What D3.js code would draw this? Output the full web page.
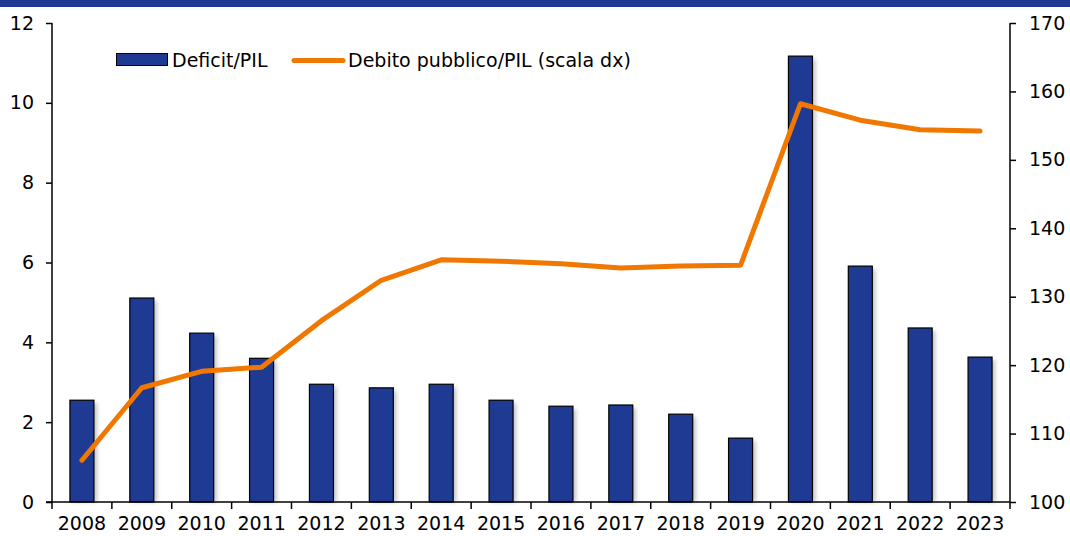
<!DOCTYPE html>
<html><head><meta charset="utf-8">
<script src="https://cdn.jsdelivr.net/npm/d3@7"></script>
<style>
body{margin:0;background:#fff;}
text{font-family:"DejaVu Sans",sans-serif;fill:#000;}
</style></head>
<body><svg id="c" width="1070" height="536"></svg>
<script>
const years = ["2008","2009","2010","2011","2012","2013","2014","2015","2016","2017","2018","2019","2020","2021","2022","2023"];
const deficit = [2.55,5.11,4.23,3.6,2.95,2.86,2.95,2.55,2.4,2.43,2.2,1.6,11.17,5.91,4.36,3.63];
const debt = [106.1,116.7,119.1,119.7,126.5,132.4,135.4,135.2,134.8,134.2,134.5,134.6,158.2,155.8,154.4,154.2];
const leftTicks = [0,2,4,6,8,10,12];
const rightTicks = [100,110,120,130,140,150,160,170];
const seriesNames = ["Deficit/PIL","Debito pubblico/PIL (scala dx)"];

const svg = d3.select("#c");
const L=52, R=1010, T=23, B=502;
const blue="#1f3a93", orange="#f07800";
const FF="DejaVu Sans, sans-serif";

svg.append("rect").attr("x",0).attr("y",0).attr("width",1070).attr("height",7).attr("fill",blue);

const x = d3.scaleBand().domain(years).range([L,R]).paddingInner(0).paddingOuter(0);
const yL = d3.scaleLinear().domain([0,12]).range([B,T]);
const yR = d3.scaleLinear().domain([100,170]).range([B,T]);

const defs = svg.append("defs");
const f = defs.append("filter").attr("id","sh").attr("x","-50%").attr("y","-10%").attr("width","200%").attr("height","120%");
f.append("feGaussianBlur").attr("stdDeviation",2);

const bw = 24;
const bars = svg.append("g");
bars.selectAll("rect.s").data(years).join("rect")
  .attr("x",(d)=>x(d)+(x.bandwidth()-bw)/2+3).attr("y",(d,i)=>yL(deficit[i])+3)
  .attr("width",bw).attr("height",(d,i)=>B-yL(deficit[i])-3)
  .attr("fill","#999").attr("opacity",0.6).attr("filter","url(#sh)");
bars.selectAll("rect.b").data(years).join("rect")
  .attr("x",(d)=>x(d)+(x.bandwidth()-bw)/2).attr("y",(d,i)=>yL(deficit[i]))
  .attr("width",bw).attr("height",(d,i)=>B-yL(deficit[i]))
  .attr("fill",blue).attr("stroke","#000").attr("stroke-width",1.2);

const line = d3.line().x((d,i)=>x(years[i])+x.bandwidth()/2).y(d=>yR(d));
svg.append("path").datum(debt).attr("d",line).attr("fill","none")
  .attr("stroke",orange).attr("stroke-width",5).attr("stroke-linejoin","round").attr("stroke-linecap","round");

const fs="19px";
const gl = svg.append("g").attr("transform",`translate(${L},0)`)
  .call(d3.axisLeft(yL).tickValues(leftTicks).tickSize(6).tickPadding(12));
const gr = svg.append("g").attr("transform",`translate(${R},0)`)
  .call(d3.axisRight(yR).tickValues(rightTicks).tickSize(6).tickPadding(13));
const gx = svg.append("g").attr("transform",`translate(0,${B})`)
  .call(d3.axisBottom(x).tickSize(0).tickPadding(15));
const bounds = years.map(d=>x(d)).concat([R]);
gx.selectAll("line.bt").data(bounds).join("line").attr("class","bt")
  .attr("x1",d=>d).attr("x2",d=>d).attr("y1",0).attr("y2",7).attr("stroke","#000").attr("stroke-width",1.5);

[gl,gr,gx].forEach(g=>{
  g.select(".domain").attr("stroke","#000").attr("stroke-width",1.5);
  g.selectAll(".tick line").attr("stroke","#000").attr("stroke-width",1.5);
  g.selectAll("text").attr("font-size",fs).attr("font-family",FF).attr("fill","#000");
});
gx.select(".domain").attr("d",`M${L-6},0H${R}`);
gl.select(".domain").attr("d",`M0,${T}V${B}`);
gr.select(".domain").attr("d",`M0,${T}V${B}`);

const lg = svg.append("g");
lg.append("rect").attr("x",116.5).attr("y",53.5).attr("width",51).attr("height",12).attr("fill",blue).attr("stroke","#000").attr("stroke-width",1);
lg.append("text").attr("x",172).attr("y",67).attr("font-size",fs).attr("font-family",FF).text(seriesNames[0]);
lg.append("line").attr("x1",294).attr("x2",343).attr("y1",60.5).attr("y2",60.5).attr("stroke",orange).attr("stroke-width",5).attr("stroke-linecap","round");
lg.append("text").attr("x",348).attr("y",67).attr("font-size",fs).attr("font-family",FF).text(seriesNames[1]);
</script></body></html>
